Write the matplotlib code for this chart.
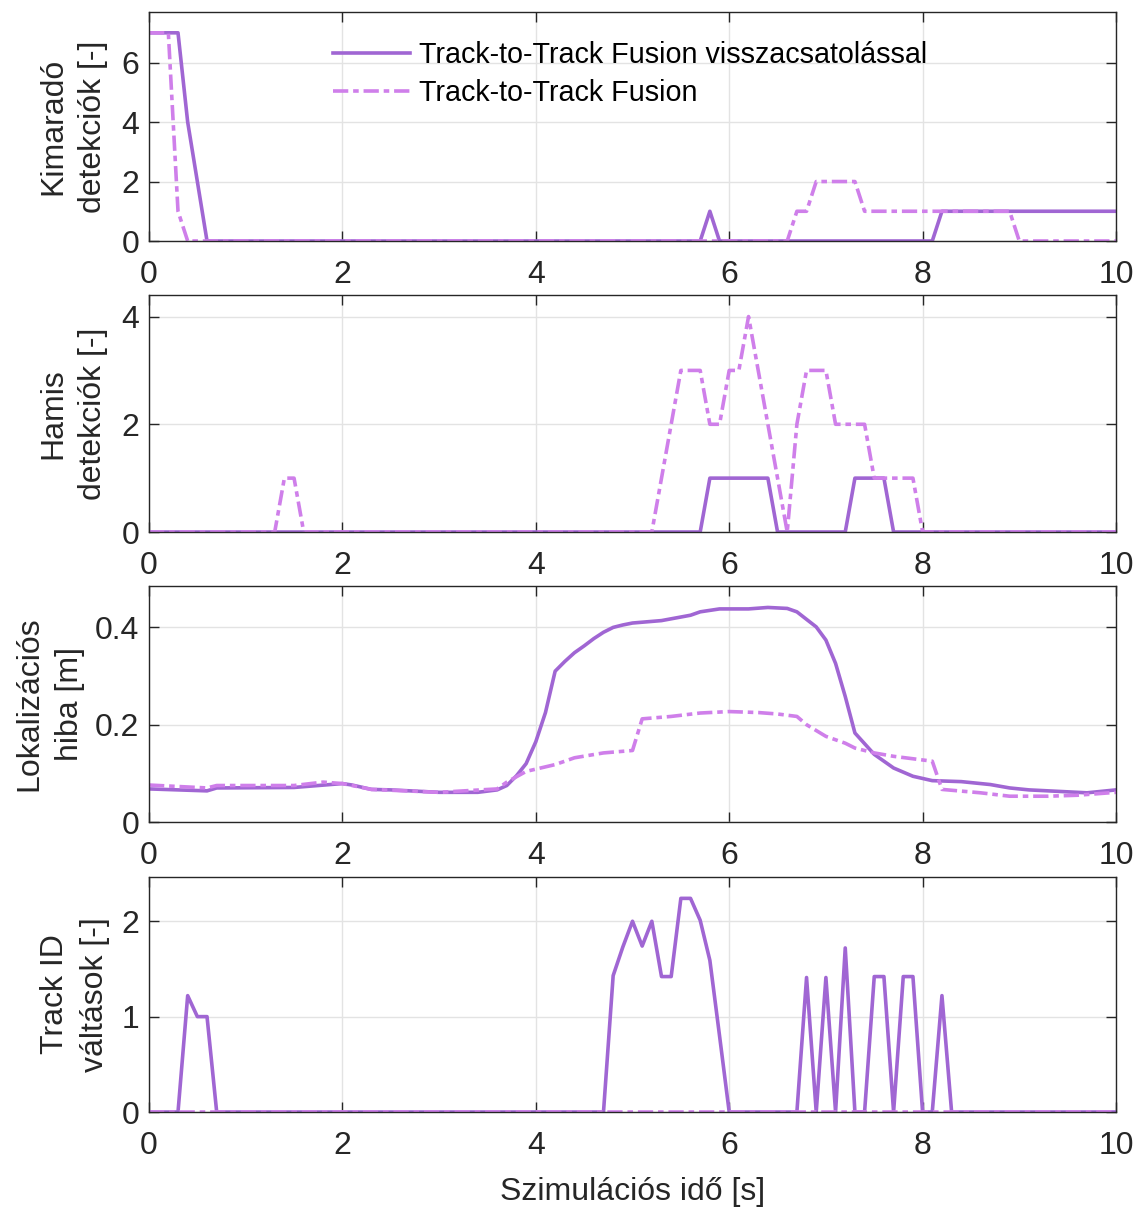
import matplotlib
matplotlib.use("Agg")
import matplotlib.pyplot as plt
import numpy as np

plt.rcParams['font.family'] = ['Liberation Sans', 'DejaVu Sans']
plt.rcParams['lines.scale_dashes'] = False

# ---------------- data ----------------
label_fb = "Track-to-Track Fusion visszacsatolással"
label_plain = "Track-to-Track Fusion"

# Panel 1: Kimaradó detekciók
t1_fb = [0, 0.3, 0.4, 0.6, 5.7, 5.8, 5.9, 8.1, 8.2, 10]
v1_fb = [7, 7, 4, 0, 0, 1, 0, 0, 1, 1]
t1_pl = [0, 0.2, 0.3, 0.4, 6.6, 6.7, 6.8, 6.9, 7.3, 7.4, 8.9, 9.0, 10]
v1_pl = [7, 7, 1, 0, 0, 1, 1, 2, 2, 1, 1, 0, 0]

# Panel 2: Hamis detekciók
t2_fb = [0, 5.7, 5.8, 6.4, 6.5, 7.2, 7.3, 7.6, 7.7, 10]
v2_fb = [0, 0, 1, 1, 0, 0, 1, 1, 0, 0]
t2_pl = [0, 1.3, 1.4, 1.5, 1.6, 5.2, 5.5, 5.7, 5.8, 5.9, 6.0, 6.1, 6.2, 6.6,
         6.7, 6.8, 7.0, 7.1, 7.4, 7.5, 7.9, 8.0, 10]
v2_pl = [0, 0, 1, 1, 0, 0, 3, 3, 2, 2, 3, 3, 4, 0,
         2, 3, 3, 2, 2, 1, 1, 0, 0]

# Panel 3: Lokalizációs hiba
t3_fb = [0, 0.6, 0.7, 1.5, 2.0, 2.1, 2.3, 2.5, 3.0, 3.4, 3.6, 3.7, 3.8, 3.9,
         4.0, 4.1, 4.2, 4.3, 4.4, 4.5, 4.6, 4.7, 4.8, 4.9, 5.0, 5.3, 5.6, 5.7,
         5.9, 6.2, 6.4, 6.6, 6.7, 6.9, 7.0, 7.1, 7.2, 7.3, 7.5, 7.7, 7.9, 8.1,
         8.4, 8.7, 8.9, 9.1, 9.4, 9.7, 10]
v3_fb = [0.068, 0.064, 0.070, 0.071, 0.079, 0.076, 0.067, 0.066, 0.061, 0.061,
         0.066, 0.075, 0.095, 0.120, 0.165, 0.225, 0.310, 0.330, 0.348, 0.362,
         0.377, 0.390, 0.400, 0.405, 0.409, 0.414, 0.425, 0.432, 0.438, 0.438,
         0.441, 0.439, 0.432, 0.401, 0.374, 0.326, 0.258, 0.183, 0.139, 0.111,
         0.094, 0.085, 0.083, 0.077, 0.070, 0.066, 0.063, 0.060, 0.066]
t3_pl = [0, 0.6, 0.7, 1.5, 1.8, 2.0, 2.3, 3.0, 3.6, 3.7, 3.9, 4.2, 4.4, 4.7,
         5.0, 5.1, 5.4, 5.7, 6.0, 6.3, 6.5, 6.7, 6.8, 7.0, 7.2, 7.3, 7.5, 7.7,
         8.1, 8.2, 8.6, 8.9, 9.3, 9.6, 10]
v3_pl = [0.076, 0.070, 0.075, 0.075, 0.082, 0.079, 0.067, 0.061, 0.068, 0.082,
         0.104, 0.118, 0.132, 0.142, 0.147, 0.212, 0.217, 0.224, 0.227, 0.225,
         0.222, 0.217, 0.200, 0.176, 0.162, 0.152, 0.142, 0.135, 0.125, 0.067,
         0.060, 0.053, 0.053, 0.055, 0.061]

# Panel 4: Track ID váltások
t4_fb = [0, 0.3, 0.4, 0.5, 0.6, 0.7, 4.7, 4.8, 4.9, 5.0, 5.1, 5.2, 5.3, 5.4,
         5.5, 5.6, 5.7, 5.8, 5.9, 6.0, 6.7, 6.8, 6.9, 7.0, 7.1, 7.2, 7.3, 7.4,
         7.5, 7.6, 7.7, 7.8, 7.9, 8.0, 8.1, 8.2, 8.3, 10]
v4_fb = [0, 0, 1.22, 1.0, 1.0, 0, 0, 1.43, 1.73, 2.0, 1.74, 2.0, 1.42, 1.42,
         2.24, 2.24, 2.01, 1.59, 0.8, 0, 0, 1.41, 0, 1.41, 0, 1.72, 0, 0,
         1.42, 1.42, 0, 1.42, 1.42, 0, 0, 1.22, 0, 0]
t4_pl = [0, 10]
v4_pl = [0, 0]

panels = [
    (t1_fb, v1_fb, t1_pl, v1_pl, "Kimaradó\ndetekciók [-]", [0, 2, 4, 6], ["0", "2", "4", "6"]),
    (t2_fb, v2_fb, t2_pl, v2_pl, "Hamis\ndetekciók [-]", [0, 2, 4], ["0", "2", "4"]),
    (t3_fb, v3_fb, t3_pl, v3_pl, "Lokalizációs\nhiba [m]", [0, 0.2, 0.4], ["0", "0.2", "0.4"]),
    (t4_fb, v4_fb, t4_pl, v4_pl, "Track ID\nváltások [-]", [0, 1, 2], ["0", "1", "2"]),
]
xticks = [0, 2, 4, 6, 8, 10]
xticklabels = ["0", "2", "4", "6", "8", "10"]

# ---------------- style ----------------
W, H = 1141, 1207
fig = plt.figure(figsize=(W / 100, H / 100), dpi=100)
c_fb = "#a066d3"
c_pl = "#cf7fea"
fs_tick = 23
fs_label = 23
fs_leg = 20.7
txt = "#262626"

boxes = [(12, 241), (295, 532), (586, 822), (877, 1112)]
label_x = [-0.042, -0.042, -0.066, -0.040]
left_px, right_px = 149, 1116

axes = []
for i, (tf, vf, tp, vp, ylab, yt, ytl) in enumerate(panels):
    top, bot = boxes[i]
    ax = fig.add_axes([left_px / W, (H - bot) / H, (right_px - left_px) / W, (bot - top) / H])
    axes.append(ax)
    lf, = ax.plot(tf, vf, color=c_fb, lw=2.6, label=label_fb)
    lp, = ax.plot(tp, vp, color=c_pl, lw=2.6, dashes=(11, 3.5, 4, 3.5), label=label_plain)
    ymax = 1.1 * max(max(vf), max(vp))
    ax.set_xlim(0, 10)
    ax.set_ylim(0, ymax)
    ax.set_xticks(xticks)
    ax.set_xticklabels(xticklabels)
    ax.set_yticks(yt)
    ax.set_yticklabels(ytl)
    ax.grid(True, color="#e3e3e3", lw=1.0)
    ax.set_axisbelow(True)
    ax.tick_params(direction='in', length=7, width=1, colors=txt,
                   top=True, right=True, labelsize=fs_tick, labelcolor=txt)
    ax.tick_params(axis='x', pad=14)
    ax.tick_params(axis='y', pad=7)
    for s in ax.spines.values():
        s.set_color(txt)
        s.set_linewidth(1.0)
    ax.set_ylabel(ylab, fontsize=fs_label, color=txt, linespacing=1.45)
    ax.yaxis.set_label_coords(label_x[i], 0.5)
    if i == 0:
        ax.legend(handles=[lf, lp], loc='upper left', bbox_to_anchor=(0.19, 0.875),
                  frameon=False, fontsize=fs_leg, handlelength=2.7, handletextpad=0.3,
                  borderpad=0, borderaxespad=0, labelspacing=0.35)

axes[-1].set_xlabel("Szimulációs idő [s]", fontsize=fs_label, color=txt, labelpad=11)

fig.savefig("out.png", dpi=100)
